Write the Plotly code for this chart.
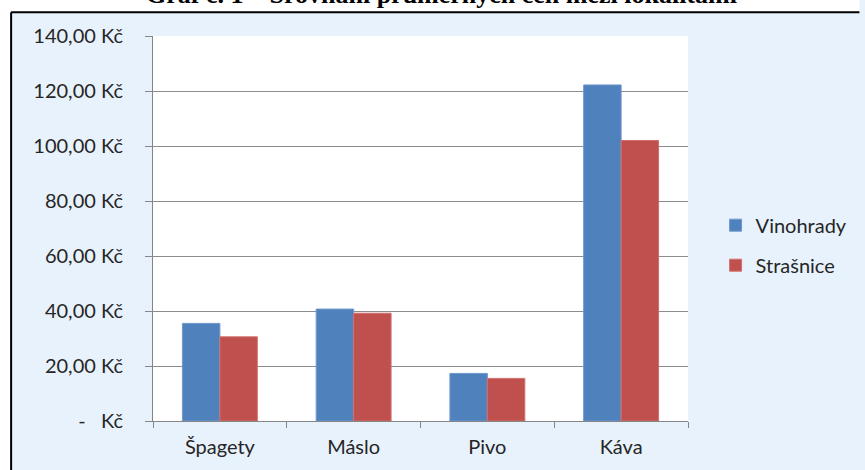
import plotly.graph_objects as go

# Average prices per item in two Prague districts
categories = ["Špagety", "Máslo", "Pivo", "Káva"]
vinohrady = [35.5, 40.7, 17.3, 122.2]
strasnice = [30.6, 39.2, 15.5, 102.0]

tick_values = [0, 20, 40, 60, 80, 100, 120, 140]
tick_labels = ["-   Kč", "20,00 Kč", "40,00 Kč", "60,00 Kč", "80,00 Kč",
               "100,00 Kč", "120,00 Kč", "140,00 Kč"]

title_text = "Graf č. 1 – Srovnání průměrných cen mezi lokalitami"

W, H = 865, 470
ML, MR, MT, MB = 153, 169, 36, 46
PW, PH = W - ML - MR, H - MT - MB


def px_x(px):
    return (px - ML) / PW


def px_y(py):
    return 1 + (MT - py) / PH


FONT = "Lato, 'Open Sans', sans-serif"
TXT = "#262626"
BG = "#E8F2FD"

fig = go.Figure()
fig.add_trace(go.Bar(name="Vinohrady", x=categories, y=vinohrady,
                     marker=dict(color="#4F81BD", line=dict(color="#6F97CB", width=1)),
                     legendgroup="a"))
fig.add_trace(go.Bar(name="Strašnice", x=categories, y=strasnice,
                     marker=dict(color="#C0504D", line=dict(color="#D0706D", width=1)),
                     legendgroup="b"))

shapes = [
    # white margin strips outside the chart frame
    dict(type="rect", xref="paper", yref="paper", x0=px_x(-5), x1=px_x(W + 5),
         y0=px_y(12), y1=px_y(-5), fillcolor="white", line=dict(width=0), layer="below"),
    dict(type="rect", xref="paper", yref="paper", x0=px_x(-5), x1=px_x(9),
         y0=px_y(H + 5), y1=px_y(-5), fillcolor="white", line=dict(width=0), layer="below"),
    # frame lines
    dict(type="line", xref="paper", yref="paper", x0=px_x(9), x1=px_x(W + 5),
         y0=px_y(12), y1=px_y(12), line=dict(color="black", width=2)),
    dict(type="line", xref="paper", yref="paper", x0=px_x(9), x1=px_x(9),
         y0=px_y(12), y1=px_y(H + 5), line=dict(color="black", width=2)),
]

fig.update_layout(
    width=W, height=H,
    margin=dict(l=ML, r=MR, t=MT, b=MB, pad=0),
    paper_bgcolor=BG, plot_bgcolor="white",
    barmode="group", bargap=0.44, bargroupgap=0,
    font=dict(family=FONT, size=20, color=TXT),
    showlegend=True,
    legend=dict(x=px_x(724), y=px_y(207), xanchor="left", yanchor="top",
                bgcolor="rgba(0,0,0,0)", font=dict(size=20, color=TXT),
                tracegroupgap=11, itemwidth=30),
    shapes=shapes,
    annotations=[dict(text="<b>" + title_text + "</b>", xref="paper", yref="paper",
                      x=px_x(446), y=px_y(11), xanchor="center", yanchor="bottom",
                      showarrow=False,
                      font=dict(family="'Liberation Serif', serif", size=26, color="black"))],
    xaxis=dict(showgrid=False, showline=True, linecolor="#868686", linewidth=1,
               ticks="outside", tickson="boundaries", ticklen=6, tickcolor="#868686",
               tickfont=dict(size=20, color=TXT), ticklabelstandoff=8),
    yaxis=dict(range=[0, 140], tickvals=tick_values, ticktext=tick_labels,
               showgrid=True, gridcolor="#8C8C8C", gridwidth=1,
               showline=True, linecolor="#868686", linewidth=1,
               ticks="outside", ticklen=7, tickcolor="#868686",
               tickfont=dict(size=20, color=TXT), ticklabelstandoff=18,
               zeroline=False),
)

fig.write_html("out.html")
